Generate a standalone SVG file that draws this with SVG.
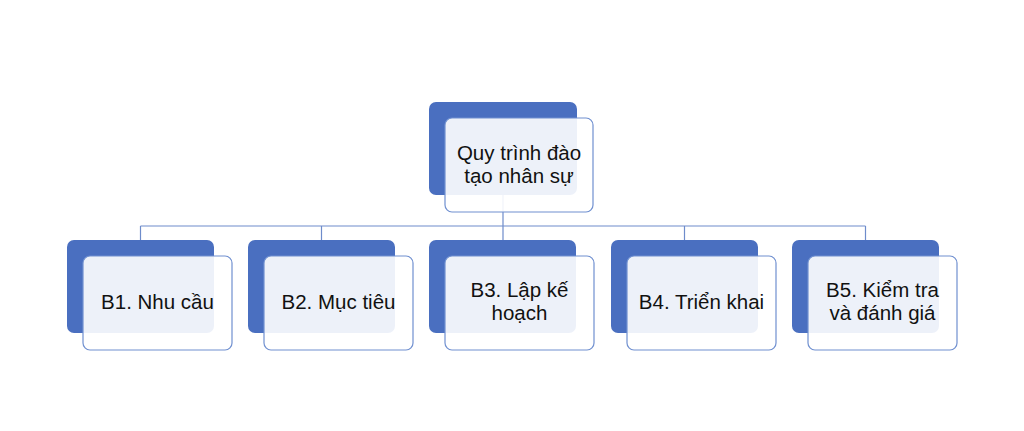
<svg xmlns="http://www.w3.org/2000/svg" width="1024" height="431" viewBox="0 0 1024 431">
<style>
.back{fill:#4A6FC0;}
.front{fill:#ffffff;fill-opacity:0.9;stroke:#7090D0;stroke-width:1.2;}
.t{font-family:"Liberation Sans",Arial,sans-serif;font-size:20.5px;fill:#111111;text-anchor:middle;}
.c{stroke:#6E8CCB;stroke-width:1.2;fill:none;}
</style>
<rect width="1024" height="431" fill="#ffffff"/>
<g id="connectors">
<path class="c" d="M503,195 V226 M140.5,226 H865.5 M140.5,226 V240 M321.5,226 V240 M503,226 V240 M684.5,226 V240 M865.5,226 V240"/>
</g>
<g id="root">
<rect class="back" x="429" y="102" width="148" height="93" rx="7"/>
<rect class="front" x="445" y="118" width="148" height="94" rx="7"/>
<text class="t" x="519" y="160">Quy trình đào</text>
<text class="t" x="519" y="183">tạo nhân sự</text>
</g>
<g id="b1">
<rect class="back" x="67" y="240" width="147" height="93" rx="7"/>
<rect class="front" x="83" y="256" width="149" height="94" rx="7"/>
<text class="t" x="157.5" y="309">B1. Nhu cầu</text>
</g>
<g id="b2">
<rect class="back" x="248" y="240" width="147" height="93" rx="7"/>
<rect class="front" x="264" y="256" width="149" height="94" rx="7"/>
<text class="t" x="338.5" y="309">B2. Mục tiêu</text>
</g>
<g id="b3">
<rect class="back" x="429" y="240" width="147" height="93" rx="7"/>
<rect class="front" x="445" y="256" width="149" height="94" rx="7"/>
<text class="t" x="519.5" y="297">B3. Lập kế</text>
<text class="t" x="519.5" y="320">hoạch</text>
</g>
<g id="b4">
<rect class="back" x="611" y="240" width="147" height="93" rx="7"/>
<rect class="front" x="627" y="256" width="149" height="94" rx="7"/>
<text class="t" x="701.5" y="309">B4. Triển khai</text>
</g>
<g id="b5">
<rect class="back" x="792" y="240" width="147" height="93" rx="7"/>
<rect class="front" x="808" y="256" width="149" height="94" rx="7"/>
<text class="t" x="882.5" y="297">B5. Kiểm tra</text>
<text class="t" x="882.5" y="320">và đánh giá</text>
</g>
</svg>
